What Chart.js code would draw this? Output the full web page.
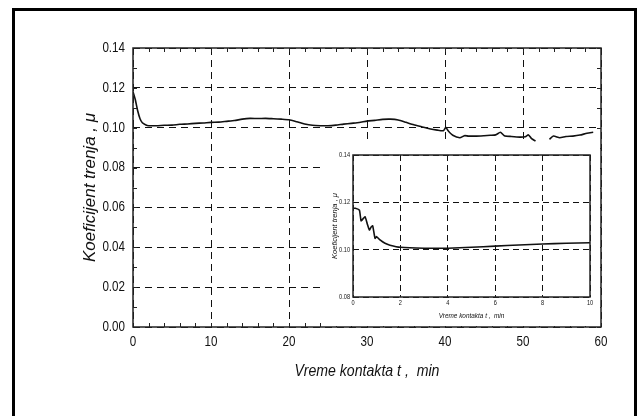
<!DOCTYPE html>
<html>
<head>
<meta charset="utf-8">
<script src="https://cdn.jsdelivr.net/npm/chart.js@4.4.1/dist/chart.umd.min.js"></script>
<style>
  body { margin: 0; background: #fff; }
  #wrap { position: relative; width: 639px; height: 416px; overflow: hidden; }
  #frame { position: absolute; left: 12px; top: 8px; width: 619px; height: 500px; border: 3px solid #000; }
  #main { position: absolute; left: 0; top: 0; }
  #inset { position: absolute; left: 323px; top: 142px; background: #fff; }
</style>
</head>
<body>
<div id="wrap">
  <div id="frame"></div>
  <canvas id="main" width="639" height="416"></canvas>
  <canvas id="inset" width="277" height="184"></canvas>
</div>
<script>
// glavni grafik: koeficijent trenja u toku 60 min
const mainTime = [0, 0.3, 0.6, 0.9, 1.2, 1.6, 2, 3, 4, 5, 6, 7, 8, 9, 10, 11, 12, 13, 14, 15,
    16, 17, 18, 19, 20, 21, 22, 23, 24, 25, 26, 27, 28, 29, 30, 31, 32, 33, 34, 35,
    36, 37, 38, 39, 39.8, 40.1, 40.4, 41, 41.9, 42.5, 43, 44, 45, 45.8, 46.5, 47.1, 47.6,
    48.5, 49.6, 50.3, 50.7, 51.1, 51.6, 52.5, 53.4, 53.9, 54.7, 55.5, 56.4, 57.3, 58.2, 59];
const mainMu = [0.1180, 0.1140, 0.1085, 0.1045, 0.1025, 0.1015, 0.1010, 0.1010, 0.1012, 0.1013,
    0.1017, 0.1019, 0.1022, 0.1024, 0.1027, 0.1028, 0.1032, 0.1036, 0.1043, 0.1047,
    0.1046, 0.1047, 0.1045, 0.1043, 0.1040, 0.1030, 0.1019, 0.1012, 0.1010, 0.1010,
    0.1013, 0.1018, 0.1022, 0.1026, 0.1033, 0.1037, 0.1042, 0.1043, 0.1039, 0.1027,
    0.1015, 0.1005, 0.0995, 0.0988, 0.0985, 0.1002, 0.0985, 0.0962, 0.0950, 0.0960,
    0.0958, 0.0958, 0.0960, 0.0962, 0.0964, 0.0977, 0.0960, 0.0956, 0.0953, 0.0955,
    0.0964, 0.0945, 0.0933, null, 0.0942, 0.0958, 0.0950, 0.0956, 0.0958, 0.0963,
    0.0972, 0.0977];

// uvećani početak (0-10 min)
const insetTime = [0, 0.1, 0.27, 0.34, 0.42, 0.51, 0.6, 0.69, 0.76, 0.83, 0.93, 1.0, 1.14,
    1.35, 1.56, 2, 3, 4, 5, 6, 7, 8, 9, 10];
const insetMu = [0.1175, 0.1175, 0.1167, 0.1122, 0.1130, 0.1139, 0.1110, 0.1083, 0.1095, 0.1101,
    0.1048, 0.1055, 0.1041, 0.1027, 0.1019, 0.1010, 0.1006, 0.1006, 0.1010, 0.1015,
    0.1020, 0.1024, 0.1027, 0.1029];

const xTitle = "Vreme kontakta t ,  min";
const yTitle = "Koeficijent trenja , \u03bc";

const sans = "'Liberation Sans', Arial, sans-serif";

function toPoints(xs, ys) {
    return xs.map((x, i) => ({x: x, y: ys[i]}));
}

// original koristi usko pismo (Arial Narrow) - sabijamo tekst preko maxWidth
function condenseText(canvas, k) {
    const ctx = canvas.getContext('2d');
    const fill = ctx.fillText.bind(ctx);
    ctx.fillText = (t, x, y, w) => {
        if (t === yTitle) return fill(t, x, y, w);
        const mw = ctx.measureText(t).width * k;
        fill(t, x, y, w === undefined ? mw : Math.min(w, mw));
    };
}

// okvir i sitne crtice na osama
function boxTicks(xStep, yStep, len) {
    return {
        id: 'boxTicks',
        afterDraw(chart) {
            const {ctx, chartArea: a, scales: {x, y}} = chart;
            ctx.save();
            ctx.strokeStyle = '#222';
            ctx.lineWidth = 1;
            ctx.setLineDash([]);
            ctx.beginPath();
            if (xStep) {
                for (let t = x.min; t <= x.max + 1e-9; t += xStep) {
                    const px = Math.round(x.getPixelForValue(t)) + 0.5;
                    ctx.moveTo(px, a.bottom); ctx.lineTo(px, a.bottom - len);
                    ctx.moveTo(px, a.top); ctx.lineTo(px, a.top + len);
                }
            }
            if (yStep) {
                const n = Math.round((y.max - y.min) / yStep);
                for (let k = 0; k <= n; k++) {
                    const py = Math.round(y.getPixelForValue(y.min + k * yStep)) + 0.5;
                    ctx.moveTo(a.left, py); ctx.lineTo(a.left + len, py);
                    ctx.moveTo(a.right, py); ctx.lineTo(a.right - len, py);
                }
            }
            ctx.stroke();
            ctx.lineWidth = 1.5;
            ctx.strokeRect(a.left, a.top, a.right - a.left, a.bottom - a.top);
            ctx.restore();
        }
    };
}

const mainCanvas = document.getElementById('main');
const insetCanvas = document.getElementById('inset');
condenseText(mainCanvas, 0.83);
condenseText(insetCanvas, 0.8);

new Chart(mainCanvas, {
    type: 'line',
    data: {
        datasets: [{
            data: toPoints(mainTime, mainMu),
            borderColor: '#111',
            borderWidth: 1.6,
            pointRadius: 0,
            tension: 0.2,
            spanGaps: false
        }]
    },
    options: {
        responsive: false,
        animation: false,
        devicePixelRatio: 1,
        layout: {padding: {left: 0, top: 48, right: 38, bottom: 0}},
        plugins: {legend: {display: false}, tooltip: {enabled: false}},
        scales: {
            x: {
                type: 'linear',
                min: 0,
                max: 60,
                afterFit: (s) => { s.height = 89; },
                ticks: {stepSize: 10, color: '#111', padding: 7, font: {family: sans, size: 14}},
                grid: {color: '#111', lineWidth: 1, drawTicks: false},
                border: {display: false, dash: [7, 5]},
                title: {
                    display: true, text: xTitle, color: '#111',
                    font: {family: sans, size: 17, style: 'italic'},
                    padding: {top: 0, bottom: 35}
                }
            },
            y: {
                min: 0,
                max: 0.14,
                afterFit: (s) => { s.width = 133; },
                ticks: {
                    stepSize: 0.02, color: '#111', padding: 8,
                    font: {family: sans, size: 14},
                    callback: (v) => v.toFixed(2)
                },
                grid: {color: '#111', lineWidth: 1, drawTicks: false},
                border: {display: false, dash: [7, 5]},
                title: {
                    display: true, text: yTitle, color: '#111',
                    font: {family: sans, size: 17, style: 'italic'},
                    padding: {top: 80, bottom: 0}
                }
            }
        }
    },
    plugins: [boxTicks(2, 0.01, 4)]
});

new Chart(insetCanvas, {
    type: 'line',
    data: {
        datasets: [{
            data: toPoints(insetTime, insetMu),
            borderColor: '#111',
            borderWidth: 1.6,
            pointRadius: 0,
            tension: 0.15
        }]
    },
    options: {
        responsive: false,
        animation: false,
        devicePixelRatio: 1,
        layout: {padding: {left: 0, top: 13, right: 10, bottom: 0}},
        plugins: {legend: {display: false}, tooltip: {enabled: false}},
        scales: {
            x: {
                type: 'linear',
                min: 0,
                max: 10,
                afterFit: (s) => { s.height = 29; },
                ticks: {stepSize: 2, color: '#111', padding: 2, font: {family: sans, size: 7}},
                grid: {color: '#111', lineWidth: 1, drawTicks: false},
                border: {display: false, dash: [6, 4]},
                title: {
                    display: true, text: xTitle, color: '#111',
                    font: {family: sans, size: 8, style: 'italic'},
                    padding: {top: 0, bottom: 5}
                }
            },
            y: {
                min: 0.08,
                max: 0.14,
                afterFit: (s) => { s.width = 30; },
                ticks: {
                    stepSize: 0.02, color: '#111', padding: 3,
                    font: {family: sans, size: 7},
                    callback: (v) => v.toFixed(2)
                },
                grid: {color: '#111', lineWidth: 1, drawTicks: false},
                border: {display: false, dash: [6, 4]},
                title: {
                    display: true, text: yTitle, color: '#111',
                    font: {family: sans, size: 7.5, style: 'italic'},
                    padding: {top: 7, bottom: 0}
                }
            }
        }
    },
    plugins: [boxTicks(0, 0, 0)]
});
</script>
</body>
</html>
